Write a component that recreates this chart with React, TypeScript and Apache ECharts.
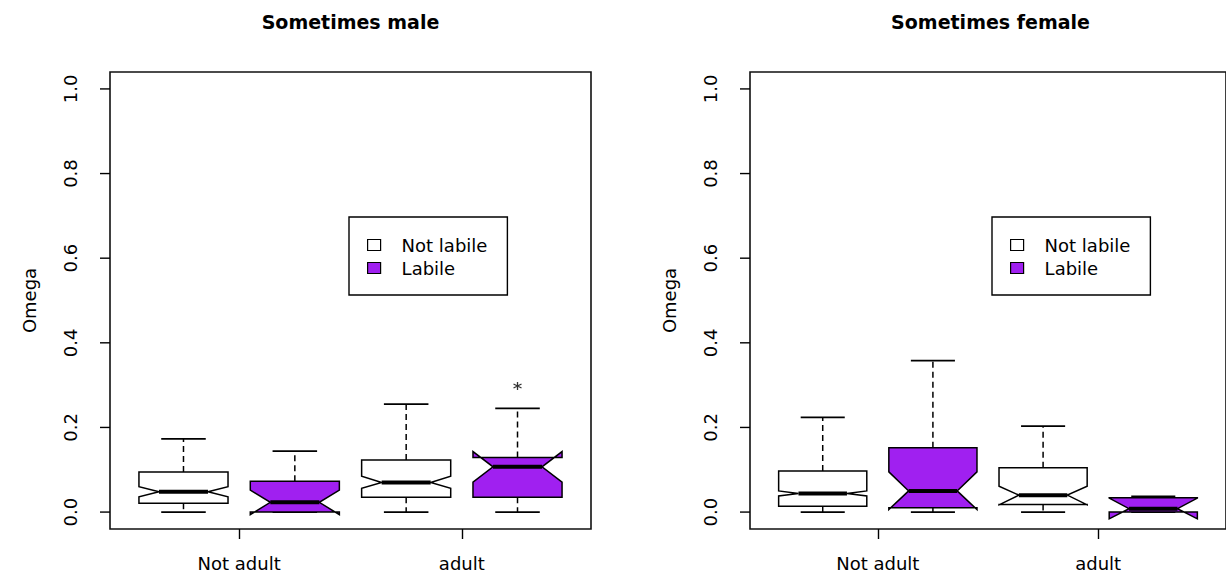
import React, { useEffect, useRef } from "react";
import * as echarts from "echarts";

const panelTitles = ["Sometimes male", "Sometimes female"];
const categories = ["Not adult", "adult"];
const categoryTickPositions = [1.5, 3.5];
const groups = ["Not labile", "Labile"];
const groupColors = ["#ffffff", "#A020F0"];
const yTicks = [0, 0.2, 0.4, 0.6, 0.8, 1.0];
const X_MIN = 0.34;
const X_MAX = 4.66;

// each row (one per category): [whiskerLow, lowerHinge, median, upperHinge, whiskerHigh, notchLow, notchHigh]
const maleNotLabile = [
  [0.0, 0.021, 0.048, 0.095, 0.173, 0.036, 0.06],
  [0.0, 0.035, 0.07, 0.123, 0.255, 0.056, 0.085],
];
const maleLabile = [
  [0.0, 0.0, 0.023, 0.073, 0.144, -0.006, 0.052],
  [0.0, 0.035, 0.107, 0.129, 0.245, 0.071, 0.143],
];
// outliers: [categoryIndex, value]
const maleLabileOutliers = [[1, 0.298]];
const femaleNotLabile = [
  [0.0, 0.014, 0.044, 0.097, 0.224, 0.038, 0.05],
  [0.0, 0.018, 0.04, 0.105, 0.203, 0.017, 0.061],
];
const femaleLabile = [
  [0.0, 0.01, 0.05, 0.152, 0.358, 0.006, 0.095],
  [0.0, 0.0, 0.008, 0.034, 0.037, -0.016, 0.033],
];
const femaleLabileOutliers: number[][] = [];

const panels = [
  { title: panelTitles[0], stats: [maleNotLabile, maleLabile], outliers: [[], maleLabileOutliers] },
  { title: panelTitles[1], stats: [femaleNotLabile, femaleLabile], outliers: [[], femaleLabileOutliers] },
];

const FONT = "DejaVu Sans";
const BOX_WIDTH = 0.8;
const NOTCH_FRAC = 0.55;
const TICK_LEN = 10;
const boxPosition = (catIdx: number, groupIdx: number) => catIdx * groups.length + groupIdx + 1;

function renderBox(params: any, api: any) {
  const x = api.value(0);
  const wlo = api.value(1), q1 = api.value(2), med = api.value(3), q3 = api.value(4);
  const whi = api.value(5), nlo = api.value(6), nhi = api.value(7);
  const cx = api.coord([x, 0])[0];
  const py = (v: number) => api.coord([x, v])[1];
  const hw = api.size([BOX_WIDTH, 0])[0] / 2;
  const L = cx - hw, R = cx + hw, Li = cx - hw * NOTCH_FRAC, Ri = cx + hw * NOTCH_FRAC;
  const fill = api.visual("color");
  const stroke = "#000";
  const lw = 1.5;
  const pts = [
    [L, py(q1)], [L, py(nlo)], [Li, py(med)], [L, py(nhi)], [L, py(q3)],
    [R, py(q3)], [R, py(nhi)], [Ri, py(med)], [R, py(nlo)], [R, py(q1)],
  ];
  const line = (x1: number, y1: number, x2: number, y2: number, extra: any = {}) => ({
    type: "line", shape: { x1, y1, x2, y2 }, style: { stroke, lineWidth: lw, ...extra },
  });
  return {
    type: "group",
    children: [
      line(cx, py(q3), cx, py(whi), { lineDash: [6, 4] }),
      line(cx, py(q1), cx, py(wlo), { lineDash: [6, 4] }),
      line(cx - hw / 2, py(whi), cx + hw / 2, py(whi), { lineWidth: 1.8 }),
      line(cx - hw / 2, py(wlo), cx + hw / 2, py(wlo), { lineWidth: 1.8 }),
      { type: "polygon", shape: { points: pts }, style: { fill, stroke, lineWidth: lw, lineJoin: "miter" } },
      line(Li, py(med), Ri, py(med), { lineWidth: 4 }),
    ],
  };
}

export default function App() {
  const ref = useRef<HTMLDivElement>(null);
  useEffect(() => {
    if (!ref.current) return;
    const chart = echarts.init(ref.current, undefined, { renderer: "svg" });
    const gridLefts = [110, 750];
    const legendLefts = [349, 992];

    const grid = gridLefts.map((left) => ({
      left, top: 72, width: 481, height: 457, show: true,
      borderColor: "#111", borderWidth: 1.6, backgroundColor: "transparent",
    }));

    const xAxis = gridLefts.map((_, i) => ({
      type: "value", gridIndex: i, position: "bottom", min: X_MIN, max: X_MAX,
      splitLine: { show: false },
      axisLine: { show: false, onZero: false },
      axisTick: { show: true, customValues: categoryTickPositions, length: TICK_LEN, lineStyle: { color: "#000", width: 1.4 } },
      axisLabel: {
        customValues: categoryTickPositions,
        formatter: (v: number) => categories[categoryTickPositions.indexOf(v)] ?? "",
        margin: 25, color: "#000", fontFamily: FONT, fontSize: 18,
      },
    }));

    const yAxis = gridLefts.map((_, i) => ({
      type: "value", gridIndex: i, position: "left", min: -0.04, max: 1.04,
      name: "Omega", nameLocation: "middle", nameGap: 72,
      nameTextStyle: { color: "#000", fontFamily: FONT, fontSize: 18 },
      splitLine: { show: false },
      axisLine: { show: false, onZero: false },
      axisTick: { show: false },
      axisLabel: {
        customValues: yTicks,
        formatter: (v: number) => v.toFixed(1),
        rotate: 90,
        margin: 31, color: "#000", fontFamily: FONT, fontSize: 18,
      },
    }));

    const series: any[] = [];
    panels.forEach((panel, pi) => {
      groups.forEach((g, gi) => {
        series.push({
          type: "custom", name: g, xAxisIndex: pi, yAxisIndex: pi,
          itemStyle: { color: groupColors[gi] }, renderItem: renderBox,
          encode: { x: 0, y: [1, 2, 3, 4, 5, 6, 7] },
          data: panel.stats[gi].map((row, ci) => [boxPosition(ci, gi), ...row]),
        });
        const outs = panel.outliers[gi];
        if (outs.length) {
          series.push({
            type: "scatter", name: "outliers", xAxisIndex: pi, yAxisIndex: pi,
            symbol: "path://M0,-1L0,1M-0.87,-0.5L0.87,0.5M-0.87,0.5L0.87,-0.5",
            symbolSize: 8,
            itemStyle: { color: "transparent", borderColor: "#000", borderWidth: 1.3 },
            data: outs.map(([ci, v]) => [boxPosition(ci, gi), v]),
          });
        }
      });
    });

    const legend = legendLefts.map((left) => ({
      data: groups, left, top: 217, orient: "vertical", icon: "rect",
      itemWidth: 13, itemHeight: 11, itemGap: 3, padding: [18, 20, 17, 18],
      borderColor: "#000", borderWidth: 1.4, selectedMode: false,
      itemStyle: { borderColor: "#000", borderWidth: 1.2 },
      textStyle: { color: "#000", fontFamily: FONT, fontSize: 18, lineHeight: 20, padding: [0, 0, 0, 16] },
    }));

    const titleGraphics: any[] = panels.map((panel, i) => ({
      type: "text", x: gridLefts[i] + 240.5, y: 22,
      style: { text: panel.title, fill: "#000", font: `bold 19px "${FONT}"`, textAlign: "center", textVerticalAlign: "middle" },
    }));

    chart.setOption({ animation: false, backgroundColor: "#fff", grid, xAxis, yAxis, legend, series, graphic: titleGraphics } as any);

    // y-axis tick marks, positioned through the axes' own scales
    try {
      const tickGraphics: any[] = [];
      gridLefts.forEach((_, gi) => {
        const rawX: any = chart.convertToPixel({ xAxisIndex: gi } as any, X_MIN as any);
        const px = Array.isArray(rawX) ? rawX[0] : rawX;
        yTicks.forEach((v) => {
          const rawY: any = chart.convertToPixel({ yAxisIndex: gi } as any, v as any);
          const py = Array.isArray(rawY) ? rawY[1] : rawY;
          if (isFinite(px) && isFinite(py)) {
            tickGraphics.push({
              type: "line",
              z: 100,
              shape: { x1: px - TICK_LEN, y1: py, x2: px, y2: py },
              style: { stroke: "#000", lineWidth: 1.4 },
            });
          }
        });
      });
      if (tickGraphics.length) {
        chart.setOption({ graphic: { elements: [...titleGraphics, ...tickGraphics] } } as any);
      }
    } catch (e) {
      // keep the chart as drawn
    }

    return () => chart.dispose();
  }, []);

  return <div ref={ref} style={{ position: "absolute", left: 0, top: 0, width: 1226, height: 585 }} />;
}
